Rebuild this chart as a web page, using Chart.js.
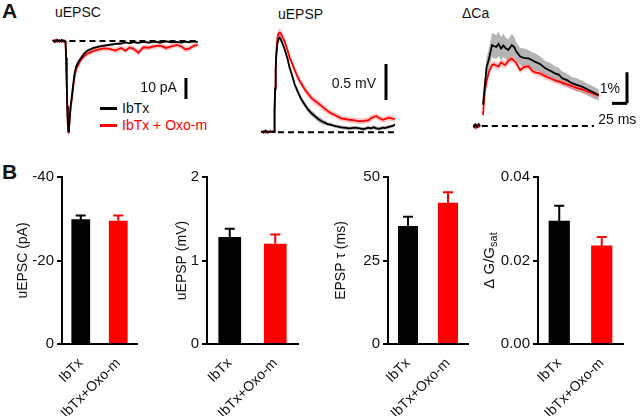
<!DOCTYPE html>
<html><head><meta charset="utf-8">
<script src="https://cdn.jsdelivr.net/npm/chart.js@4.4.1/dist/chart.umd.min.js"></script>
<style>
body{margin:0;background:#fff;width:640px;height:416px;overflow:hidden;position:relative;font-family:Arial,"Liberation Sans",sans-serif;}
canvas{position:absolute;}
.t{position:absolute;font-size:14px;color:#111;white-space:nowrap;line-height:1;}
.ln{position:absolute;height:3px;width:17px;}
</style></head><body>
<div class="t" style="left:2px;top:0px;font-size:21px;font-weight:bold">A</div>
<div class="t" style="left:2px;top:161px;font-size:21px;font-weight:bold">B</div>
<div class="t" style="left:55px;top:5px">uEPSC</div>
<div class="t" style="left:278px;top:7px">uEPSP</div>
<div class="t" style="left:462px;top:6px">&Delta;Ca</div>
<div class="ln" style="left:100px;top:107px;background:#000"></div>
<div class="t" style="left:122px;top:101px">IbTx</div>
<div class="ln" style="left:100px;top:124px;background:#f00"></div>
<div class="t" style="left:122px;top:118px;color:#f00">IbTx + Oxo-m</div>
<canvas id="tr1"></canvas><canvas id="tr2"></canvas><canvas id="tr3"></canvas>
<canvas id="b1"></canvas><canvas id="b2"></canvas><canvas id="b3"></canvas><canvas id="b4"></canvas>
<script>
// ---------- Panel A traces (time in ms, values in pA / mV / %) ----------
const EPSC_T = [-22,-18,-14,-10,-6,-2,0,1,2,3,4,5,6,7,8,10,12,14,17,20,25,30,35,40,50,60,70,80,90,100,108,115,122,131,140,150,160,170,180,190,200,208,215,222,230,237];
const EPSC_BLACK = [0.4,-0.5,0.6,-0.3,0.5,-0.2,0,-1,-8,-19,-31,-39,-43,-42,-38,-31,-27,-22,-15.5,-12,-9.5,-7.5,-5.8,-4.6,-3.4,-2.7,-2.2,-1.8,-1.4,-1.2,-0.7,-1.1,-0.5,-0.9,-0.4,-0.8,-0.3,-0.7,-0.2,-0.6,-0.4,-0.8,-0.3,-0.6,-0.2,-0.5];
const EPSC_BLACK_SEM = [0.5,0.5,0.5,0.5,0.5,0.5,0.5,0.6,1.0,1.4,1.6,1.7,1.7,1.7,1.6,1.5,1.4,1.3,1.1,1.0,0.9,0.8,0.8,0.7,0.7,0.6,0.6,0.6,0.6,0.6,0.5,0.5,0.5,0.5,0.5,0.5,0.5,0.5,0.5,0.5,0.5,0.5,0.5,0.5,0.5,0.5];
const EPSC_RED = [-0.3,0.5,-0.4,0.4,-0.5,0.3,0,-1,-8,-19,-31,-39,-43.5,-42.5,-39,-32,-28,-23.5,-17,-13.5,-10.5,-8.5,-7,-6,-4.8,-4,-3.5,-3.8,-4.6,-3.3,-4.6,-3.2,-3.6,-5.6,-3,-3.2,-2.4,-2.2,-3.3,-2.6,-1.9,-2.6,-4.0,-3.6,-2.3,-1.8];
const EPSC_RED_SEM = [0.6,0.6,0.6,0.6,0.6,0.6,0.6,0.8,1.2,1.6,1.9,2.0,2.0,2.0,1.9,1.8,1.7,1.6,1.5,1.4,1.3,1.3,1.2,1.2,1.2,1.2,1.2,1.2,1.3,1.2,1.3,1.2,1.2,1.4,1.2,1.2,1.2,1.2,1.3,1.2,1.2,1.2,1.3,1.3,1.2,1.2];

const EPSP_T = [-23,-19,-15,-11,-7,-3,0,1,2,3,4,6,8,10,12,15,19,24,28,31,37,43,49,55,61,67,73,79,85,96,102,110,120,135,144,150,160,165,168,173,178,183,188,195,198,205,210,216];
const EPSP_BLACK = [0.01,-0.01,0.02,-0.01,0.01,0,0,0.3,0.6,0.85,1.05,1.22,1.29,1.31,1.29,1.23,1.15,1.02,0.89,0.82,0.66,0.55,0.45,0.38,0.31,0.26,0.22,0.18,0.15,0.11,0.10,0.08,0.065,0.05,0.06,0.055,0.04,0.05,0.06,0.05,0.065,0.05,0.045,0.06,0.055,0.07,0.08,0.10];
const EPSP_BLACK_SEM = [0.01,0.01,0.01,0.01,0.01,0.01,0.01,0.02,0.03,0.03,0.04,0.04,0.04,0.04,0.04,0.04,0.04,0.04,0.04,0.04,0.04,0.04,0.04,0.04,0.04,0.04,0.04,0.04,0.04,0.025,0.025,0.025,0.025,0.025,0.025,0.025,0.025,0.025,0.025,0.025,0.025,0.025,0.025,0.025,0.025,0.025,0.025,0.025];
const EPSP_RED = [0,0.01,-0.01,0.01,0,0.01,0,0.3,0.62,0.9,1.1,1.3,1.37,1.38,1.37,1.32,1.26,1.14,1.03,0.98,0.86,0.75,0.67,0.59,0.53,0.47,0.43,0.40,0.36,0.29,0.26,0.23,0.19,0.17,0.16,0.15,0.15,0.16,0.16,0.19,0.21,0.22,0.19,0.17,0.18,0.20,0.19,0.18];
const EPSP_RED_SEM = [0.01,0.01,0.01,0.01,0.01,0.01,0.01,0.03,0.04,0.05,0.05,0.06,0.06,0.06,0.06,0.06,0.06,0.05,0.05,0.05,0.05,0.05,0.05,0.05,0.05,0.05,0.05,0.05,0.05,0.04,0.04,0.04,0.04,0.04,0.04,0.04,0.04,0.04,0.04,0.04,0.04,0.04,0.04,0.04,0.04,0.04,0.04,0.04];

const CA_T = [-16,-13,-10,-7,-5,-2,0,3,6,10,15,18,22,26,30,34,37,42,48,52,55,62,68,76,82,87,95,104,112,120,126,132,140,148,156,165,172,182,193];
const CA_BLACK = [-0.05,0.05,-0.04,0.06,0,null,0.68,1.3,1.9,2.17,2.61,2.58,2.55,2.65,2.5,2.6,2.52,2.45,2.61,2.55,2.42,2.24,2.2,2.18,2.12,2.07,2.0,1.86,1.78,1.7,1.66,1.54,1.48,1.38,1.33,1.27,1.2,1.1,1.0];
const CA_BLACK_SEM = [0.03,0.03,0.03,0.03,0.03,null,0.15,0.25,0.3,0.35,0.38,0.4,0.38,0.4,0.36,0.38,0.35,0.34,0.36,0.33,0.3,0.28,0.3,0.27,0.26,0.27,0.25,0.24,0.25,0.23,0.22,0.23,0.21,0.2,0.21,0.2,0.19,0.2,0.18];
const CA_RED = [0.05,-0.06,0.04,-0.03,0.02,null,0.35,1.1,1.45,1.75,1.97,1.99,1.95,1.92,2.05,2.0,1.97,2.1,2.18,2.1,2.05,1.8,1.9,1.92,1.78,1.73,1.7,1.6,1.54,1.47,1.43,1.4,1.34,1.29,1.23,1.18,1.13,1.06,0.98];
const CA_RED_SEM = [0.03,0.03,0.03,0.03,0.03,null,0.08,0.12,0.12,0.12,0.12,0.12,0.12,0.12,0.12,0.12,0.12,0.12,0.12,0.12,0.12,0.1,0.1,0.1,0.1,0.1,0.1,0.1,0.1,0.1,0.1,0.1,0.1,0.1,0.1,0.1,0.1,0.1,0.1];

// ---------- Panel B bars ----------
const GROUPS = ['IbTx','IbTx+Oxo-m'];
const UEPSC_MEAN = [-29.9,-29.5];   const UEPSC_SEM = [0.9,1.3];
const UEPSP_MEAN = [1.28,1.20];     const UEPSP_SEM = [0.10,0.11];
const TAU_MEAN = [35.3,42.3];       const TAU_SEM = [2.8,3.1];
const DGG_MEAN = [0.0295,0.0236];   const DGG_SEM = [0.0036,0.0020];

const FONT = "Arial, 'Liberation Sans', sans-serif";
const BLACK = '#000', RED = '#ff0000';
const GRAYBAND = 'rgba(150,150,150,0.7)', REDBAND = 'rgba(255,110,110,0.4)';

function place(cv, l, t, w, h){cv.width=w;cv.height=h;cv.style.left=l+'px';cv.style.top=t+'px';cv.style.width=w+'px';cv.style.height=h+'px';}
function pts(ts, vs, sem, k){return ts.map((t,i)=>({x:t, y:(vs[i]===null)?null:vs[i]+(sem?k*sem[i]:0)}));}
function line(data, color, w, order, dash){return {data, borderColor:color, borderWidth:w, pointRadius:0, fill:false, order, borderDash:dash||[], spanGaps:false, tension:0};}
function band(ts, vs, sem, color, order){
  return [
    {data:pts(ts,vs,sem,1), borderWidth:0, borderColor:'rgba(0,0,0,0)', pointRadius:0, fill:false, order, spanGaps:false},
    {data:pts(ts,vs,sem,-1), borderWidth:0, borderColor:'rgba(0,0,0,0)', pointRadius:0, fill:'-1', backgroundColor:color, order, spanGaps:false}
  ];
}
const textPlugin = {id:'txt', afterDraw(chart, args, opts){
  const ctx=chart.ctx, xs=chart.scales.x, ys=chart.scales.y;
  (opts.items||[]).forEach(it=>{
    ctx.save(); ctx.font='14px '+FONT; ctx.fillStyle='#111'; ctx.textAlign=it.align||'left'; ctx.textBaseline='middle';
    ctx.fillText(it.text, xs.getPixelForValue(it.x)+(it.dx||0), ys.getPixelForValue(it.y)+(it.dy||0)); ctx.restore();
  });
}};
function makeTrace(id, box, org, t, blk, blkSem, red, redSem, extra, items){
  const cv=document.getElementById(id); place(cv, box.l, box.t, box.w, box.h);
  const ds = [
    ...band(t, blk, blkSem, GRAYBAND, 5),
    ...band(t, red, redSem, REDBAND, 4),
    line(pts(t, red), RED, 1.8, 2),
    line(pts(t, blk), BLACK, 1.8, 1),
    ...extra
  ];
  new Chart(cv, {type:'line', data:{datasets:ds}, options:{responsive:false, animation:false, events:[],
    layout:{padding:0},
    scales:{x:{type:'linear', display:false, min:(box.l-org.x0)/org.sx, max:(box.l+box.w-org.x0)/org.sx},
            y:{type:'linear', display:false, min:(org.y0-box.t-box.h)/org.sy, max:(org.y0-box.t)/org.sy}},
    plugins:{legend:{display:false}, tooltip:{enabled:false}, txt:{items}}}, plugins:[textPlugin]});
}
function seg(x1,y1,x2,y2,dash,w){return line([{x:x1,y:y1},{x:x2,y:y2}], BLACK, w||3, 0, dash);}

// uEPSC
makeTrace('tr1', {l:40,t:28,w:165,h:112}, {x0:65, sx:0.56, y0:41, sy:2.1},
  EPSC_T, EPSC_BLACK, EPSC_BLACK_SEM, EPSC_RED, EPSC_RED_SEM,
  [seg(8,0,237,0,[6,4],2), seg(216,-17.6,216,-27.6)],
  [{text:'10 pA', x:216, y:-22.6, dx:-9, align:'right'}]);
// uEPSP
makeTrace('tr2', {l:255,t:28,w:145,h:112}, {x0:274, sx:0.56, y0:132, sy:72},
  EPSP_T, EPSP_BLACK, EPSP_BLACK_SEM, EPSP_RED, EPSP_RED_SEM,
  [seg(7,-0.005,221,-0.005,[6,4],2), seg(200,0.944,200,0.444)],
  [{text:'0.5 mV', x:200, y:0.694, dx:-10, dy:2, align:'right'}]);
// dCa
makeTrace('tr3', {l:462,t:25,w:178,h:110}, {x0:483, sx:0.6, y0:126, sy:31},
  CA_T, CA_BLACK, CA_BLACK_SEM, CA_RED, CA_RED_SEM,
  [seg(-2,0,185,0,[6,4],2), seg(240,1.73,240,0.73), seg(215,0.73,240,0.73)],
  [{text:'1%', x:240, y:1.23, dx:-7, dy:1, align:'right'}, {text:'25 ms', x:192, y:0.19}]);

// ---------- bar charts ----------
const errPlugin = {id:'errbars', afterDatasetsDraw(chart, args, opts){
  const meta=chart.getDatasetMeta(0), ys=chart.scales.y, ctx=chart.ctx, ds=chart.data.datasets[0];
  meta.data.forEach((bar,i)=>{
    const v=ds.data[i], yp=ys.getPixelForValue(v+Math.sign(v)*opts.sem[i]);
    ctx.save(); ctx.strokeStyle=ds.backgroundColor[i]; ctx.lineWidth=2; ctx.beginPath();
    ctx.moveTo(bar.x, bar.y+1); ctx.lineTo(bar.x, yp); ctx.moveTo(bar.x-5, yp); ctx.lineTo(bar.x+5, yp); ctx.stroke(); ctx.restore();
  });
}};
const dggTitle = {id:'dggTitle', afterDraw(chart, args, opts){
  if(!opts.cx) return;
  const ctx=chart.ctx, a=chart.chartArea;
  ctx.save(); ctx.translate(opts.cx, (a.top+a.bottom)/2); ctx.rotate(-Math.PI/2);
  ctx.fillStyle='#111'; ctx.textBaseline='middle';
  ctx.font='15px '+FONT; const m='\u0394 G/G'; const w1=ctx.measureText(m).width;
  ctx.font='11px '+FONT; const w2=ctx.measureText('sat').width;
  const x0=-(w1+w2)/2;
  ctx.font='15px '+FONT; ctx.fillText(m, x0, 0);
  ctx.font='11px '+FONT; ctx.fillText('sat', x0+w1, 4);
  ctx.restore();
}};
function makeBar(id, c){
  const cv=document.getElementById(id); const T=165, H=251, W=c.axisEnd+3-c.left;
  place(cv, c.left, T, W, H);
  new Chart(cv, {type:'bar',
    data:{labels:GROUPS, datasets:[{data:c.mean, backgroundColor:[BLACK,RED], borderWidth:0, categoryPercentage:1, barPercentage:0.5}]},
    options:{responsive:false, animation:false, events:[],
      layout:{padding:{top:177-T, right:3, left:0, bottom:0}},
      plugins:{legend:{display:false}, tooltip:{enabled:false}, errbars:{sem:c.sem}, dggTitle:{cx:c.customTitle?c.titleCx-c.left:0}},
      scales:{
        x:{grid:{display:false}, border:{display:true, color:'#000', width:2},
           ticks:{autoSkip:false, minRotation:45, maxRotation:45, padding:3, color:'#111', font:{size:14, family:FONT}},
           afterFit:s=>{s.height=T+H-344;}},
        y:{min:c.min, max:c.max, reverse:!!c.reverse,
           ticks:{stepSize:c.step, color:'#111', font:{size:15, family:FONT}, padding:3, callback:c.fmt||(v=>v)},
           grid:{drawOnChartArea:false, drawTicks:true, tickLength:5, color:'#000', lineWidth:2},
           border:{color:'#000', width:2},
           title:{display:!c.customTitle, text:c.title, color:'#111', font:{size:14, family:FONT}, padding:{top:c.titleCx-c.left-8.4, bottom:0}},
           afterFit:s=>{s.width=c.axisX-c.left;}}
      }},
    plugins:[errPlugin, dggTitle]});
}
makeBar('b1', {left:0, axisX:62, axisEnd:137, mean:UEPSC_MEAN, sem:UEPSC_SEM, min:-40, max:0, step:20, reverse:true, title:'uEPSC (pA)', titleCx:23.5});
makeBar('b2', {left:150, axisX:207, axisEnd:298, mean:UEPSP_MEAN, sem:UEPSP_SEM, min:0, max:2, step:1, title:'uEPSP (mV)', titleCx:182});
makeBar('b3', {left:310, axisX:388, axisEnd:468, mean:TAU_MEAN, sem:TAU_SEM, min:0, max:50, step:25, title:'EPSP \u03c4 (ms)', titleCx:341});
makeBar('b4', {left:470, axisX:538, axisEnd:623, mean:DGG_MEAN, sem:DGG_SEM, min:0, max:0.04, step:0.02, fmt:v=>v.toFixed(2), customTitle:true, titleCx:490});
</script>
</body></html>
